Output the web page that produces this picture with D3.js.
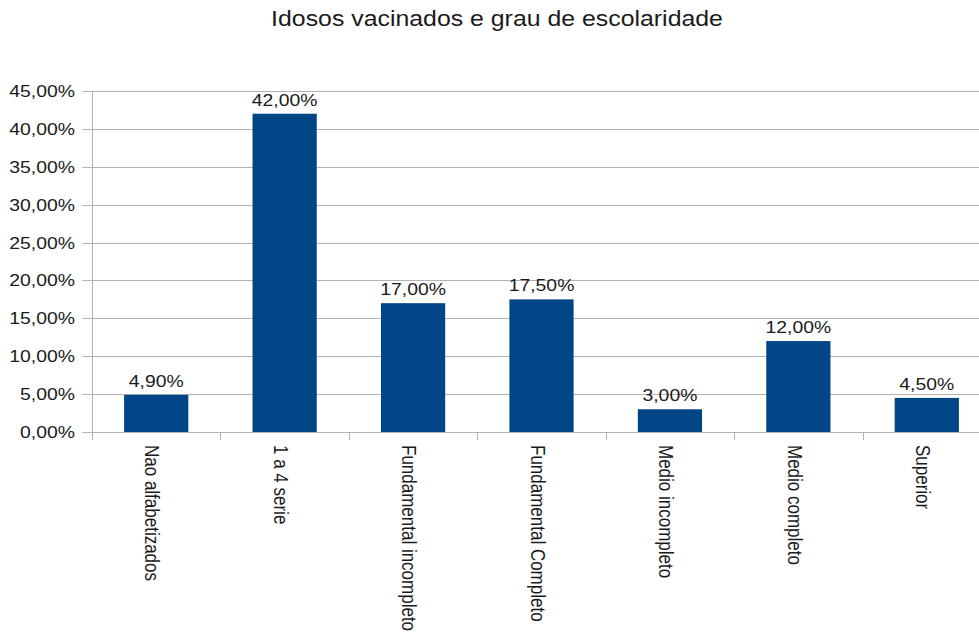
<!DOCTYPE html>
<html>
<head>
<meta charset="utf-8">
<script src="https://cdn.jsdelivr.net/npm/d3@7"></script>
<style>
  html, body { margin: 0; padding: 0; background: #fff; }
  svg { display: block; font-family: "Liberation Sans", Arial, sans-serif; }
</style>
</head>
<body>
<svg id="chart" width="979" height="637"></svg>
<script>
const title = "Idosos vacinados e grau de escolaridade";
const categories = [
  "Nao alfabetizados",
  "1 a 4 serie",
  "Fundamental incompleto",
  "Fundamental Completo",
  "Medio incompleto",
  "Medio completo",
  "Superior"
];
const values = [4.9, 42.0, 17.0, 17.5, 3.0, 12.0, 4.5];
const yTicks = [0, 5, 10, 15, 20, 25, 30, 35, 40, 45];

const svg = d3.select("#chart");
const plot = { left: 92, right: 991, top: 91, bottom: 432 };
// glyphs are drawn slightly wide
const WIDE = 1.14;

const fmt = v => d3.format(".2f")(v).replace(".", ",") + "%";

const x = d3.scaleBand()
  .domain(categories)
  .range([plot.left, plot.right])
  .paddingInner(0.5)
  .paddingOuter(0.25);

const y = d3.scaleLinear()
  .domain([0, 45])
  .range([plot.bottom, plot.top]);

// Title
svg.append("text")
  .attr("transform", `translate(497,26) scale(1.13,1)`)
  .attr("text-anchor", "middle")
  .attr("font-size", 22)
  .attr("fill", "#1a1a1a")
  .text(title);

// Horizontal gridlines
svg.append("g")
  .selectAll("line")
  .data(yTicks)
  .join("line")
  .attr("x1", plot.left - 10)
  .attr("x2", plot.right)
  .attr("y1", d => Math.round(y(d)) + 0.5)
  .attr("y2", d => Math.round(y(d)) + 0.5)
  .attr("stroke", "#b3b3b3")
  .attr("stroke-width", 1);

// Y axis
const yAxis = d3.axisLeft(y)
  .tickValues(yTicks)
  .tickSize(0)
  .tickFormat(fmt);

const gy = svg.append("g")
  .attr("transform", `translate(${plot.left},0)`)
  .call(yAxis);
gy.select(".domain").remove();
gy.selectAll("text")
  .attr("x", 0)
  .attr("transform", `translate(-17,0) scale(${WIDE},1)`)
  .attr("font-size", 17)
  .attr("font-family", "Liberation Sans, Arial, sans-serif")
  .attr("fill", "#1a1a1a");

svg.append("line")
  .attr("x1", plot.left + 0.5).attr("x2", plot.left + 0.5)
  .attr("y1", plot.top).attr("y2", plot.bottom + 8)
  .attr("stroke", "#b3b3b3");

// Bars
svg.append("g")
  .selectAll("rect")
  .data(values)
  .join("rect")
  .attr("x", (d, i) => x(categories[i]))
  .attr("width", x.bandwidth())
  .attr("y", d => y(d))
  .attr("height", d => y(0) - y(d))
  .attr("fill", "#004586");

// Value labels
svg.append("g")
  .selectAll("text")
  .data(values)
  .join("text")
  .attr("transform", (d, i) =>
    `translate(${x(categories[i]) + x.bandwidth() / 2},${y(d) - 8}) scale(${WIDE},1)`)
  .attr("text-anchor", "middle")
  .attr("font-size", 17)
  .attr("fill", "#1a1a1a")
  .text(fmt);

// X axis baseline with separators between categories
const xAxis = d3.axisBottom(x).tickSize(0).tickFormat("");
const gx = svg.append("g")
  .attr("transform", `translate(0,${plot.bottom + 0.5})`)
  .call(xAxis);
gx.select(".domain").attr("stroke", "#b3b3b3").attr("d", `M${plot.left},0H${plot.right}`);
gx.selectAll(".tick").remove();

svg.append("g")
  .selectAll("line")
  .data(categories.slice(1))
  .join("line")
  .attr("x1", d => Math.round(x(d) - x.bandwidth() / 2) + 0.5)
  .attr("x2", d => Math.round(x(d) - x.bandwidth() / 2) + 0.5)
  .attr("y1", plot.bottom)
  .attr("y2", plot.bottom + 8)
  .attr("stroke", "#b3b3b3");

// Category labels, rotated to read top-to-bottom
svg.append("g")
  .selectAll("text")
  .data(categories)
  .join("text")
  .attr("transform", d =>
    `translate(${x(d) + x.bandwidth() / 2 - 4},${plot.bottom + 13}) rotate(90) scale(1,${WIDE})`)
  .attr("dy", "0.35em")
  .attr("font-size", 17)
  .attr("fill", "#1a1a1a")
  .text(d => d);
</script>
</body>
</html>
